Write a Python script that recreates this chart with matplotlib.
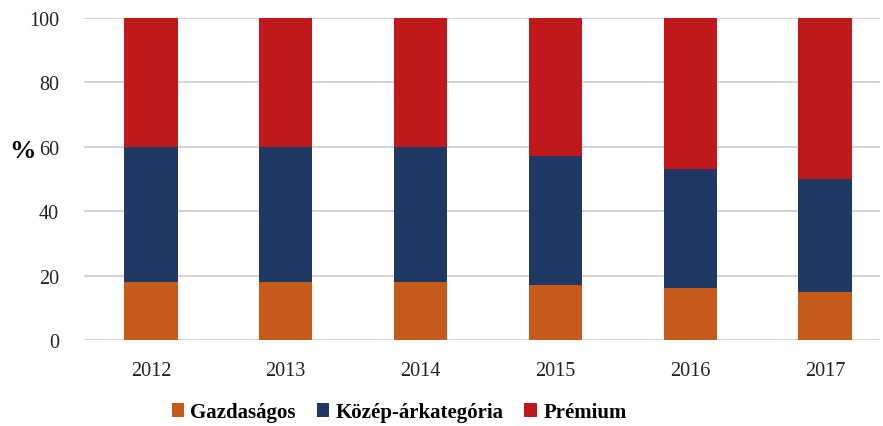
import numpy as np
import matplotlib
matplotlib.use("Agg")
import matplotlib.pyplot as plt
from matplotlib.patches import Patch

years = ["2012", "2013", "2014", "2015", "2016", "2017"]
gazdasagos = [18, 18, 18, 17, 16, 15]
kozep = [42, 42, 42, 40, 37, 35]
premium = [40, 40, 40, 43, 47, 50]

series_names = ["Gazdaságos", "Közép-árkategória", "Prémium"]
colors = ["#C55A1A", "#1F3864", "#C0191C"]

plt.rcParams["font.family"] = ["Liberation Serif", "DejaVu Serif"]

fig = plt.figure(figsize=(8.83, 4.27), dpi=100, facecolor="white")
ax = fig.add_axes([0.095, 0.2014, 0.902, 0.7541])

x = np.arange(len(years))
width = 0.395
bottom = np.zeros(len(years))
for vals, color in zip([gazdasagos, kozep, premium], colors):
    ax.bar(x, vals, width, bottom=bottom, color=color, zorder=3)
    bottom += np.array(vals)

ax.set_ylim(0, 100)
ax.set_xlim(-0.497, 5.41)
ax.set_yticks(range(0, 101, 20))
ax.set_xticks(x)
ax.set_xticklabels(years)
ax.tick_params(length=0, labelsize=14.5, colors="#222222")
ax.tick_params(axis="x", pad=15)
ax.tick_params(axis="y", pad=18)
ax.grid(axis="y", color="#cccccc", linewidth=1.2, zorder=0)
for spine in ax.spines.values():
    spine.set_visible(False)

fig.text(0.025, 0.645, "%", fontsize=19, fontweight="bold", ha="center", va="center")

handles = [Patch(facecolor=c, label=n) for n, c in zip(series_names, colors)]
leg = fig.legend(handles=handles, loc="center", bbox_to_anchor=(0.452, 0.032),
                 ncol=3, frameon=False, prop={"weight": "bold", "size": 15},
                 handlelength=0.6, handleheight=0.6, handletextpad=0.3,
                 columnspacing=1.0)

fig.savefig("out.png", dpi=100, facecolor="white")
